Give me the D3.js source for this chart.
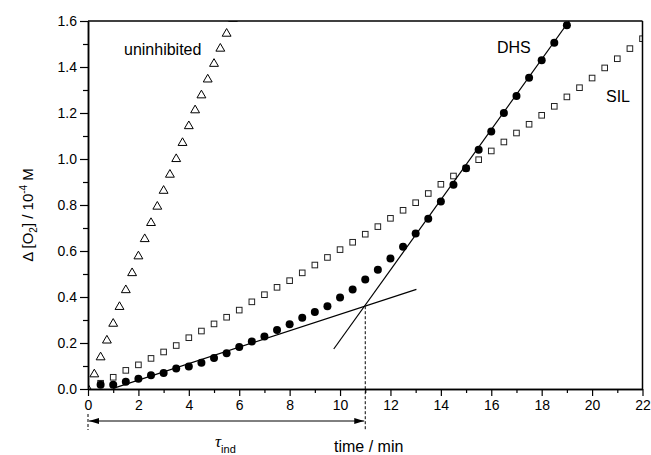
<!DOCTYPE html>
<html>
<head>
<meta charset="utf-8">
<script src="https://cdn.jsdelivr.net/npm/d3@7"></script>
<style>
  body { margin: 0; background: #fff; }
  svg { font-family: Arial, "Liberation Sans", sans-serif; }
</style>
</head>
<body>
<script>
// uninhibited (triangles)
var triT = [0, 0.25, 0.5, 0.75, 1, 1.25, 1.5, 1.75, 2, 2.25, 2.5, 2.75, 3, 3.25, 3.5, 3.75, 4, 4.25, 4.5, 4.75, 5, 5.25, 5.5, 5.75];
var triV = [0, 0.064, 0.138, 0.211, 0.284, 0.357, 0.430, 0.504, 0.577, 0.652, 0.722, 0.793, 0.862, 0.932, 1.0, 1.070, 1.143, 1.212, 1.277, 1.346, 1.414, 1.480, 1.545, 1.61];

// SIL (open squares)
var silT = [0.5, 1, 1.5, 2, 2.5, 3, 3.5, 4, 4.5, 5, 5.5, 6, 6.5, 7, 7.5, 8, 8.5, 9, 9.5, 10, 10.5, 11, 11.5, 12, 12.5, 13, 13.5, 14, 14.5, 15, 15.5, 16, 16.5, 17, 17.5, 18, 18.5, 19, 19.5, 20, 20.5, 21, 21.5, 22];
var silV = [0.025, 0.051, 0.081, 0.105, 0.133, 0.161, 0.189, 0.223, 0.252, 0.283, 0.312, 0.343, 0.379, 0.410, 0.442, 0.471, 0.505, 0.539, 0.572, 0.606, 0.638, 0.673, 0.706, 0.742, 0.777, 0.810, 0.850, 0.890, 0.926, 0.960, 0.997, 1.035, 1.074, 1.113, 1.151, 1.190, 1.229, 1.270, 1.310, 1.352, 1.396, 1.436, 1.480, 1.523];

// DHS (filled circles)
var dhsT = [0.5, 1, 1.5, 2, 2.5, 3, 3.5, 4, 4.5, 5, 5.5, 6, 6.5, 7, 7.5, 8, 8.5, 9, 9.5, 10, 10.5, 11, 11.5, 12, 12.5, 13, 13.5, 14, 14.5, 15, 15.5, 16, 16.5, 17, 17.5, 18, 18.5, 19];
var dhsV = [0.018, 0.018, 0.032, 0.045, 0.060, 0.070, 0.089, 0.098, 0.114, 0.135, 0.155, 0.183, 0.207, 0.228, 0.256, 0.281, 0.310, 0.335, 0.360, 0.398, 0.433, 0.476, 0.518, 0.567, 0.618, 0.676, 0.740, 0.815, 0.888, 0.960, 1.040, 1.120, 1.200, 1.274, 1.353, 1.429, 1.505, 1.581];

// tangent lines (start / end)
var slowT = [1.0, 13.03], slowV = [0.003, 0.433];
var fastT = [9.75, 19.09], fastV = [0.174, 1.6];
var tauInd = 11;

var xMajor = [0, 2, 4, 6, 8, 10, 12, 14, 16, 18, 20, 22];
var xMinor = [1, 3, 5, 7, 9, 11, 13, 15, 17, 19, 21];
var yMajor = [0, 0.2, 0.4, 0.6, 0.8, 1.0, 1.2, 1.4, 1.6];
var yMinor = [0.1, 0.3, 0.5, 0.7, 0.9, 1.1, 1.3, 1.5];

var W = 651, H = 455;
var x = d3.scaleLinear().domain([0, 22]).range([88, 642.5]);
var y = d3.scaleLinear().domain([0, 1.6]).range([389, 21]);

var svg = d3.select("body").append("svg").attr("width", W).attr("height", H);

svg.append("clipPath").attr("id", "plot")
  .append("rect").attr("x", x(0)).attr("y", y(1.6))
  .attr("width", x(22) - x(0)).attr("height", y(0) - y(1.6));

function zip(t, v) { return t.map(function (d, i) { return [d, v[i]]; }); }

var g = svg.append("g").attr("clip-path", "url(#plot)");

// triangles
g.selectAll(".tri").data(zip(triT, triV)).enter().append("path")
  .attr("class", "tri")
  .attr("d", d3.symbol(d3.symbolTriangle, 34))
  .attr("transform", function (d) { return "translate(" + x(d[0]) + "," + y(d[1]) + ")"; })
  .style("fill", "#fff").style("stroke", "#000").style("stroke-width", 1);

// squares
g.selectAll(".sq").data(zip(silT, silV)).enter().append("rect")
  .attr("class", "sq")
  .attr("x", function (d) { return x(d[0]) - 2.8; })
  .attr("y", function (d) { return y(d[1]) - 2.8; })
  .attr("width", 5.6).attr("height", 5.6)
  .style("fill", "#fff").style("stroke", "#222").style("stroke-width", 1);

// circles
g.selectAll(".dot").data(zip(dhsT, dhsV)).enter().append("circle")
  .attr("class", "dot")
  .attr("cx", function (d) { return x(d[0]); })
  .attr("cy", function (d) { return y(d[1]); })
  .attr("r", 4)
  .style("fill", "#000");

// tangents
var line = d3.line().x(function (d) { return x(d[0]); }).y(function (d) { return y(d[1]); });
g.append("path").datum(zip(slowT, slowV)).attr("d", line)
  .style("fill", "none").style("stroke", "#000").style("stroke-width", 1.2);
g.append("path").datum(zip(fastT, fastV)).attr("d", line)
  .style("fill", "none").style("stroke", "#000").style("stroke-width", 1.2);

// axes
var xAx = svg.append("g").attr("transform", "translate(0," + y(0) + ")")
  .call(d3.axisBottom(x).tickValues(xMajor).tickSize(7).tickSizeOuter(0).tickPadding(4).tickFormat(d3.format("d")));
svg.append("g").attr("transform", "translate(0," + y(0) + ")")
  .call(d3.axisBottom(x).tickValues(xMinor).tickSize(4).tickSizeOuter(0).tickFormat(""));
svg.append("g").attr("transform", "translate(" + x(0) + ",0)")
  .call(d3.axisLeft(y).tickValues(yMajor).tickSize(8).tickSizeOuter(0).tickPadding(3).tickFormat(d3.format(".1f")));
svg.append("g").attr("transform", "translate(" + x(0) + ",0)")
  .call(d3.axisLeft(y).tickValues(yMinor).tickSize(5).tickSizeOuter(0).tickFormat(""));

svg.selectAll(".domain").style("stroke", "#000").style("stroke-width", 1.5);
svg.selectAll(".tick line").style("stroke", "#000").style("stroke-width", 1.2);
svg.selectAll(".tick text").style("font-size", "14px").style("fill", "#000")
  .style("font-family", "Arial, 'Liberation Sans', sans-serif");

// frame top / right
svg.append("line").attr("x1", x(0)).attr("x2", x(22)).attr("y1", y(1.6)).attr("y2", y(1.6))
  .style("stroke", "#000").style("stroke-width", 1.5);
svg.append("line").attr("x1", x(22)).attr("x2", x(22)).attr("y1", y(1.6)).attr("y2", y(0))
  .style("stroke", "#000").style("stroke-width", 1.5);

// induction period annotation
svg.append("line").attr("x1", x(tauInd)).attr("x2", x(tauInd))
  .attr("y1", y(0.36)).attr("y2", 430)
  .style("stroke", "#000").style("stroke-width", 1).style("stroke-dasharray", "3,2");
svg.append("line").attr("x1", x(0)).attr("x2", x(0))
  .attr("y1", 414).attr("y2", 430)
  .style("stroke", "#000").style("stroke-width", 1).style("stroke-dasharray", "3,2");

var defs = svg.append("defs");
defs.append("marker").attr("id", "ah").attr("viewBox", "0 0 10 6")
  .attr("refX", 10).attr("refY", 3).attr("markerWidth", 10).attr("markerHeight", 6)
  .attr("markerUnits", "userSpaceOnUse").attr("orient", "auto-start-reverse")
  .append("path").attr("d", "M0,0L10,3L0,6Z").style("fill", "#000");

svg.append("line").attr("x1", x(0) + 1).attr("x2", x(tauInd) - 1)
  .attr("y1", 421).attr("y2", 421)
  .style("stroke", "#000").style("stroke-width", 1)
  .attr("marker-start", "url(#ah)").attr("marker-end", "url(#ah)");

var tau = svg.append("text").attr("x", 215).attr("y", 447).style("font-size", "17px");
tau.append("tspan").text("τ").style("font-style", "italic").style("font-family", "'Times New Roman', 'Liberation Serif', serif");
tau.append("tspan").text("ind").attr("dy", 6).style("font-size", "11px");

svg.append("text").attr("x", 334).attr("y", 452).style("font-size", "16px").text("time / min");

// y title
var yt = svg.append("text").attr("transform", "translate(33,215) rotate(-90)")
  .attr("text-anchor", "middle").style("font-size", "15px");
yt.append("tspan").text("Δ [O");
yt.append("tspan").text("2").attr("dy", 4).style("font-size", "10px");
yt.append("tspan").text("] / 10").attr("dy", -4);
yt.append("tspan").text("-4").attr("dy", -6).style("font-size", "10px");
yt.append("tspan").text(" M").attr("dy", 6);

// series labels
svg.append("text").attr("x", 124).attr("y", 55).style("font-size", "16px").text("uninhibited");
svg.append("text").attr("x", 497).attr("y", 53).style("font-size", "16px").text("DHS");
svg.append("text").attr("x", 606).attr("y", 102).style("font-size", "16px").text("SIL");
</script>
</body>
</html>
